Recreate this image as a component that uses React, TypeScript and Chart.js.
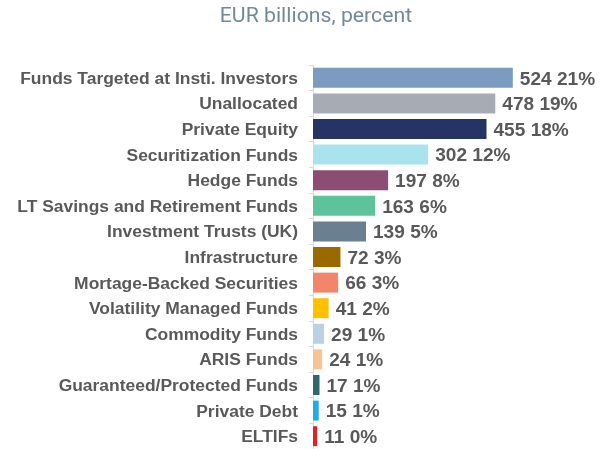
import React, { useEffect, useRef } from "react";
import { Chart, registerables } from "chart.js";

Chart.register(...registerables);

const categories = [
  "Funds Targeted at Insti. Investors",
  "Unallocated",
  "Private Equity",
  "Securitization Funds",
  "Hedge Funds",
  "LT Savings and Retirement Funds",
  "Investment Trusts (UK)",
  "Infrastructure",
  "Mortage-Backed Securities",
  "Volatility Managed Funds",
  "Commodity Funds",
  "ARIS Funds",
  "Guaranteed/Protected Funds",
  "Private Debt",
  "ELTIFs",
];
const values = [524, 478, 455, 302, 197, 163, 139, 72, 66, 41, 29, 24, 17, 15, 11];
const percents = [21, 19, 18, 12, 8, 6, 5, 3, 3, 2, 1, 1, 1, 1, 0];
const barColors = [
  "#7B9BC0",
  "#A7ACB2",
  "#263463",
  "#A9E3EE",
  "#8C4D74",
  "#5EC39A",
  "#6A7F8F",
  "#9A6A00",
  "#F2866A",
  "#FFC000",
  "#BBD0E3",
  "#F7C294",
  "#2E6A6C",
  "#1DAEE5",
  "#E02222",
];
const titleText = "EUR billions, percent";

const SX = 1.09;

function drawStretched(ctx: any, text: string, x: number, y: number, align: "left" | "right" | "center") {
  ctx.save();
  ctx.translate(x, y);
  ctx.scale(SX, 1);
  ctx.textAlign = align;
  ctx.textBaseline = "middle";
  ctx.fillText(text, 0, 0);
  ctx.restore();
}

const textPlugin = {
  id: "textPlugin",
  afterDraw(chart: any) {
    const ctx = chart.ctx;
    const meta = chart.getDatasetMeta(0);
    const yScale = chart.scales.y;
    ctx.save();
    // title
    ctx.font = "19.5px Roboto";
    ctx.fillStyle = "#6F8B9B";
    drawStretched(ctx, titleText, 316, 17, "center");
    // category labels
    ctx.font = "bold 16px 'Liberation Sans', Arial, sans-serif";
    ctx.fillStyle = "#595959";
    categories.forEach((c, i) => {
      drawStretched(ctx, c, yScale.right - 15, yScale.getPixelForTick(i) + 1.5, "right");
    });
    // value labels
    ctx.font = "bold 17.5px 'Liberation Sans', Arial, sans-serif";
    meta.data.forEach((bar: any, i: number) => {
      drawStretched(ctx, `${values[i]} ${percents[i]}%`, bar.x + 7, bar.y + 2, "left");
    });
    ctx.restore();
  },
};

export default function App() {
  const ref = useRef<HTMLCanvasElement | null>(null);
  useEffect(() => {
    if (!ref.current) return;
    const chart = new Chart(ref.current, {
      type: "bar",
      data: {
        labels: categories,
        datasets: [
          {
            data: values,
            backgroundColor: barColors,
            borderWidth: 0,
            categoryPercentage: 1,
            barPercentage: 0.78,
          },
        ],
      },
      options: {
        indexAxis: "y",
        animation: false,
        responsive: false,
        layout: { padding: { left: 0, right: 7, top: 65, bottom: 0 } },
        plugins: {
          legend: { display: false },
          tooltip: { enabled: false },
          title: { display: false },
        },
        scales: {
          x: {
            display: false,
            min: 0,
            max: 750,
          },
          y: {
            afterFit(scale: any) {
              scale.width = 313;
            },
            grid: {
              drawOnChartArea: false,
              drawTicks: true,
              tickLength: 4,
              color: "#D9D9D9",
              offset: true,
            },
            border: { display: true, color: "#D9D9D9" },
            ticks: { display: false },
          },
        },
      },
      plugins: [textPlugin],
    });
    return () => chart.destroy();
  }, []);
  return (
    <div style={{ position: "absolute", left: 0, top: 0, width: 606, height: 449, background: "#fff" }}>
      <canvas ref={ref} width={606} height={449} />
    </div>
  );
}
